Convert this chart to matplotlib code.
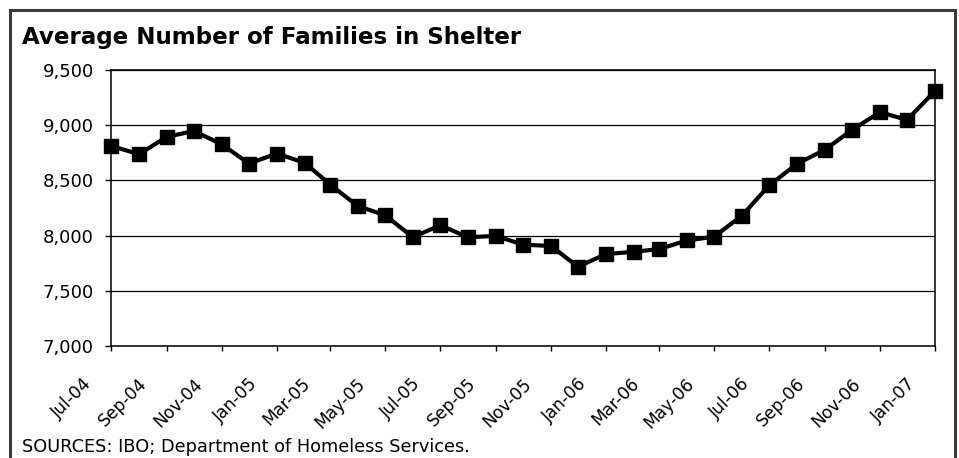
import matplotlib
matplotlib.use("Agg")
import matplotlib.pyplot as plt
from matplotlib.patches import Rectangle
from matplotlib.transforms import ScaledTranslation
import pandas as pd

# Monthly average number of families in shelter, Jul-04 .. Jan-07
months = pd.date_range("2004-07-01", "2007-01-01", freq="MS")
families = [8813, 8737, 8895, 8947, 8826, 8653, 8743, 8659, 8462, 8266,
            8185, 7985, 8094, 7985, 7997, 7918, 7906, 7718, 7833, 7853,
            7878, 7956, 7990, 8182, 8454, 8651, 8778, 8958, 9118, 9048,
            9310]

tick_months = pd.date_range("2004-07-01", "2007-01-01", freq="2MS")
tick_labels = ["Jul-04", "Sep-04", "Nov-04", "Jan-05", "Mar-05", "May-05",
               "Jul-05", "Sep-05", "Nov-05", "Jan-06", "Mar-06", "May-06",
               "Jul-06", "Sep-06", "Nov-06", "Jan-07"]
y_ticks = [7000, 7500, 8000, 8500, 9000, 9500]
y_labels = ["7,000", "7,500", "8,000", "8,500", "9,000", "9,500"]

W, H = 959, 458
fig = plt.figure(figsize=(W / 100, H / 100), dpi=100)
plt.rcParams["font.family"] = ["DejaVu Sans"]

# outer frame of the panel
fig.patches.append(Rectangle((10 / W, -0.05), (955 - 10) / W, 1.05 - 10 / H,
                             transform=fig.transFigure, fill=False,
                             edgecolor="#3a3a3a", linewidth=2.2))

fig.text(22 / W, 1 - 44 / H, "Average Number of Families in Shelter",
         fontsize=16.6, fontweight="bold", ha="left", va="baseline")
fig.text(22 / W, 1 - 452 / H, "SOURCES: IBO; Department of Homeless Services.",
         fontsize=12.8, ha="left", va="baseline")

ax = fig.add_axes([111 / W, 1 - 346 / H, (935 - 111) / W, (346 - 70) / H])
ax.plot(months, families, color="black", linewidth=3.0, marker="s",
        markersize=10.5, clip_on=False, zorder=3)

ax.set_xlim(months[0], months[-1])
ax.set_ylim(7000, 9500)
ax.set_yticks(y_ticks)
ax.set_yticklabels(y_labels)
ax.set_xticks(tick_months)
ax.set_xticklabels(tick_labels, rotation=45, ha="right", va="top")

ax.grid(axis="y", color="black", linewidth=0.9)
ax.set_axisbelow(True)
for s in ax.spines.values():
    s.set_color("black")
    s.set_linewidth(1.1)

ax.tick_params(axis="y", direction="out", length=4.3, width=1, labelsize=13, pad=8)
ax.tick_params(axis="x", direction="out", length=3.6, width=1, labelsize=12.3, pad=17)

offset = ScaledTranslation(-16 / 100, 0, fig.dpi_scale_trans)
for lbl in ax.get_xticklabels():
    lbl.set_transform(lbl.get_transform() + offset)

fig.savefig("out.png", dpi=100)
